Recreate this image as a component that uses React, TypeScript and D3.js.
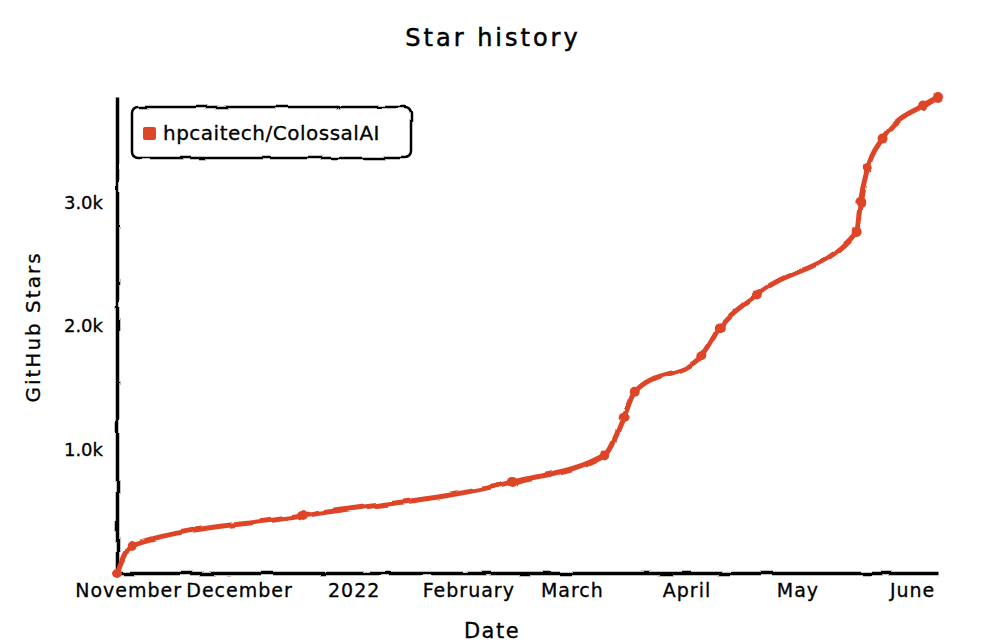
import * as d3 from "d3";
import { useEffect, useRef } from "react";

// star counts
const dates = [
  "2021-10-29", "2021-11-02", "2021-12-18", "2022-02-13", "2022-03-10",
  "2022-03-15", "2022-03-18", "2022-04-05", "2022-04-10", "2022-04-20",
  "2022-05-17", "2022-05-18", "2022-05-20", "2022-05-24", "2022-06-04",
  "2022-06-08",
];
const stars = [
  0, 227, 462, 737, 961, 1257, 1468, 1757, 1990, 2257, 2764, 3006, 3282,
  3520, 3789, 3857,
];
const yTicks = [1000, 2000, 3000];
const xTicks = [
  "2021-11-01", "2021-12-01", "2022-01-01", "2022-02-01", "2022-03-01",
  "2022-04-01", "2022-05-01", "2022-06-01",
];
const seriesName = "hpcaitech/ColossalAI";

const FONT = "'DejaVu Sans', sans-serif";
const RED = "#dd4528";

const App = () => {
  const ref = useRef<SVGSVGElement>(null);

  useEffect(() => {
    const width = 1000;
    const height = 644;
    const margin = { top: 97, right: 62, bottom: 71, left: 117 };
    const svg = d3.select(ref.current);
    svg.attr("width", width).attr("height", height);

    const defs = svg.append("defs");
    const filter = defs
      .append("filter")
      .attr("id", "xkcdify")
      .attr("filterUnits", "userSpaceOnUse")
      .attr("x", -5)
      .attr("y", -5)
      .attr("width", "100%")
      .attr("height", "100%");
    filter
      .append("feTurbulence")
      .attr("type", "fractalNoise")
      .attr("baseFrequency", 0.05)
      .attr("result", "noise");
    filter
      .append("feDisplacementMap")
      .attr("scale", 4)
      .attr("xChannelSelector", "R")
      .attr("yChannelSelector", "G")
      .attr("in", "SourceGraphic")
      .attr("in2", "noise");

    const parse = d3.timeParse("%Y-%m-%d");
    const data = dates.map((d, i) => ({ date: parse(d)!, value: stars[i] }));

    const innerW = width - margin.left - margin.right;
    const innerH = height - margin.top - margin.bottom;

    const x = d3
      .scaleTime()
      .domain([parse("2021-10-29")!, parse("2022-06-08")!])
      .range([0, innerW]);
    const y = d3
      .scaleLinear()
      .domain([0, d3.max(stars)!])
      .range([innerH, 0]);

    svg
      .append("text")
      .attr("x", 493)
      .attr("y", 46)
      .attr("text-anchor", "middle")
      .attr("font-family", FONT)
      .attr("font-size", 24)
      .attr("letter-spacing", 3)
      .attr("fill", "#000")
      .attr("stroke", "#000")
      .attr("stroke-width", 0.5)
      .text("Star history");

    const g = svg
      .append("g")
      .attr("transform", `translate(${margin.left},${margin.top})`);

    // axes
    const xAxis = g
      .append("g")
      .attr("transform", `translate(0,${innerH})`)
      .call(
        d3
          .axisBottom(x)
          .tickValues(xTicks.map((d) => parse(d)!))
          .tickSize(0)
          .tickPadding(11)
          .tickFormat((d) => {
            const dt = d as Date;
            return dt.getMonth() === 0
              ? d3.timeFormat("%Y")(dt)
              : d3.timeFormat("%B")(dt);
          })
      );
    xAxis
      .select(".domain")
      .attr("stroke", "#000")
      .attr("stroke-width", 3.5)
      .attr("filter", "url(#xkcdify)");
    xAxis
      .selectAll("text")
      .attr("font-family", FONT)
      .attr("font-size", 19)
      .attr("letter-spacing", 1)
      .attr("fill", "#000")
      .attr("stroke", "#000")
      .attr("stroke-width", 0.3);

    const yAxis = g.append("g").call(
      d3
        .axisLeft(y)
        .tickValues(yTicks)
        .tickSize(0)
        .tickPadding(14)
        .tickFormat((d) => d3.format(".1f")((d as number) / 1000) + "k")
    );
    yAxis
      .select(".domain")
      .attr("stroke", "#000")
      .attr("stroke-width", 3.5)
      .attr("filter", "url(#xkcdify)");
    yAxis
      .selectAll("text")
      .attr("font-family", FONT)
      .attr("font-size", 18)
      .attr("fill", "#000")
      .attr("stroke", "#000")
      .attr("stroke-width", 0.3);

    svg
      .append("text")
      .attr("transform", `translate(40,${margin.top + innerH / 2 - 8}) rotate(-90)`)
      .attr("text-anchor", "middle")
      .attr("font-family", FONT)
      .attr("font-size", 20)
      .attr("letter-spacing", 2)
      .attr("fill", "#000")
      .attr("stroke", "#000")
      .attr("stroke-width", 0.3)
      .text("GitHub Stars");

    svg
      .append("text")
      .attr("x", 492)
      .attr("y", 638)
      .attr("text-anchor", "middle")
      .attr("font-family", FONT)
      .attr("font-size", 21)
      .attr("letter-spacing", 1.5)
      .attr("fill", "#000")
      .attr("stroke", "#000")
      .attr("stroke-width", 0.3)
      .text("Date");

    // line
    const line = d3
      .line<{ date: Date; value: number }>()
      .x((d) => x(d.date))
      .y((d) => y(d.value))
      .curve(d3.curveMonotoneX);

    const plot = g.append("g").attr("filter", "url(#xkcdify)");
    plot
      .append("path")
      .datum(data)
      .attr("d", line)
      .attr("fill", "none")
      .attr("stroke", RED)
      .attr("stroke-width", 5)
      .attr("stroke-linecap", "round")
      .attr("stroke-linejoin", "round");
    plot
      .selectAll("circle")
      .data(data)
      .join("circle")
      .attr("cx", (d) => x(d.date))
      .attr("cy", (d) => y(d.value))
      .attr("r", 5)
      .attr("fill", RED);

    // legend
    const legend = svg.append("g").attr("transform", "translate(132,107)");
    legend
      .append("rect")
      .attr("width", 279)
      .attr("height", 51)
      .attr("rx", 6)
      .attr("fill", "#fff")
      .attr("stroke", "#000")
      .attr("stroke-width", 2.5)
      .attr("filter", "url(#xkcdify)");
    legend
      .append("rect")
      .attr("x", 11)
      .attr("y", 20)
      .attr("width", 13)
      .attr("height", 13)
      .attr("rx", 2)
      .attr("fill", RED);
    legend
      .append("text")
      .attr("x", 31)
      .attr("y", 33)
      .attr("font-family", FONT)
      .attr("font-size", 20)
      .attr("letter-spacing", 0.5)
      .attr("fill", "#000")
      .attr("stroke", "#000")
      .attr("stroke-width", 0.3)
      .text(seriesName);

    return () => {
      svg.selectAll("*").remove();
    };
  }, []);

  return (
    <svg ref={ref} style={{ display: "block", position: "absolute", left: 0, top: 0 }}></svg>
  );
};

export default App;
